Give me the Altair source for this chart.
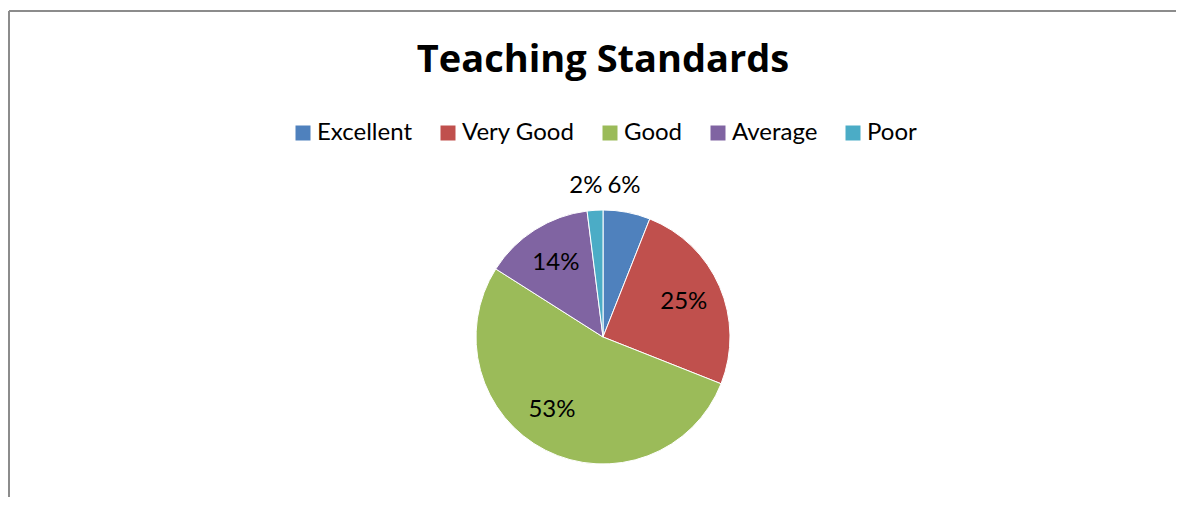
import altair as alt
import pandas as pd

categories = ["Excellent", "Very Good", "Good", "Average", "Poor"]
values = [6, 25, 53, 14, 2]
labels = ["6%", "25%", "53%", "14%", "2%"]
colors = ["#4F81BD", "#C0504D", "#9BBB59", "#8064A2", "#4BACC6"]

df = pd.DataFrame({
    "category": categories,
    "value": values,
    "label": labels,
    "idx": list(range(len(categories))),
})

FONT = "Lato"

base = alt.Chart(df).encode(
    theta=alt.Theta("value:Q", stack=True),
    order=alt.Order("idx:Q"),
)

pie = base.mark_arc(outerRadius=127, stroke="white", strokeWidth=1).encode(
    color=alt.Color(
        "category:N",
        sort=categories,
        scale=alt.Scale(domain=categories, range=colors),
        legend=alt.Legend(
            title=None,
            orient="none",
            direction="horizontal",
            columns=5,
            legendX=261,
            legendY=-71,
            symbolType="square",
            symbolSize=225,
            symbolStrokeWidth=0,
            labelFont=FONT,
            labelFontSize=24,
            labelColor="black",
            labelOffset=2,
            columnPadding=23,
            padding=0,
        ),
    ),
)

text_style = dict(font=FONT, fontSize=24, color="black")

# "best fit" label placement: mid-size slices inside, the large slice nudged, thin slices outside
inner = base.mark_text(radius=88, **text_style).encode(
    text=alt.condition("datum.value >= 10 && datum.value < 50", alt.Text("label:N"), alt.value(""))
)
inner_big = base.mark_text(radius=89, thetaOffset=0.14, **text_style).encode(
    text=alt.condition("datum.value >= 50", alt.Text("label:N"), alt.value(""))
)
outer = base.mark_text(radius=152, thetaOffset=-0.05, **text_style).encode(
    text=alt.condition("datum.value < 10", alt.Text("label:N"), alt.value(""))
)

frame_df = pd.DataFrame({"a": [0]})
frame_top = alt.Chart(frame_df).mark_rule(color="#8c8c8c", strokeWidth=2).encode(
    x=alt.value(-21), x2=alt.value(1160), y=alt.value(-181)
)
frame_left = alt.Chart(frame_df).mark_rule(color="#8c8c8c", strokeWidth=2).encode(
    x=alt.value(-21), y=alt.value(-181), y2=alt.value(320)
)

chart = alt.layer(pie, inner, inner_big, outer, frame_top, frame_left).properties(
    width=1146,
    height=290,
    padding={"left": 22, "top": 184, "right": 0, "bottom": 15},
    autosize=alt.AutoSizeParams(type="none"),
    background="white",
    title=alt.TitleParams(
        "Teaching Standards",
        font="Open Sans",
        fontSize=38,
        fontWeight="bold",
        color="black",
        anchor="middle",
        baseline="alphabetic",
        offset=-100,
    ),
).configure_view(strokeWidth=0, stroke="transparent")

chart.save("out.html", embed_options={"renderer": "svg", "actions": False})
